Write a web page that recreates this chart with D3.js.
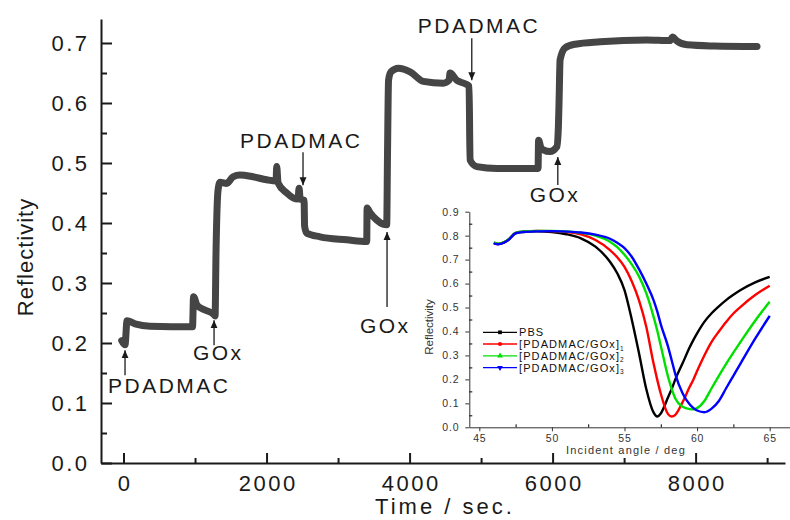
<!DOCTYPE html>
<html>
<head>
<meta charset="utf-8">
<script src="https://cdn.jsdelivr.net/npm/d3@7"></script>
<style>
  body { margin: 0; background: #fff; }
  svg { display: block; font-family: "Liberation Sans", Arial, sans-serif; }
</style>
</head>
<body>
<div id="chart"></div>
<script>
// main trace: reflectivity vs time
var timeSec = [-25, 21, 49, 161, 371, 965, 979, 1028, 1140, 1259, 1280, 1294, 1322, 1350, 1443,
    1531, 1629, 1811, 2003, 2133, 2142, 2161, 2283, 2371, 2440, 2455, 2470, 2525, 2532, 2562,
    2748, 3122, 3401, 3406, 3448, 3541, 3629, 3680, 3692, 3706, 3741, 3843, 4007, 4193, 4473,
    4553, 4566, 4660, 4776, 4832, 4846, 4940, 5220, 5797, 5804, 5839, 5871, 5965, 6059, 6081,
    6091, 6105, 6175, 6315, 6664, 7317, 7641, 7680, 7741, 7881, 8259, 8859];
var reflectivity = [0.204, 0.197, 0.237, 0.232, 0.228, 0.227, 0.277, 0.263, 0.255, 0.248, 0.245, 0.355, 0.455, 0.468, 0.466,
    0.477, 0.480, 0.477, 0.472, 0.470, 0.494, 0.467, 0.450, 0.442, 0.440, 0.458, 0.440, 0.438, 0.395, 0.383,
    0.377, 0.372, 0.369, 0.425, 0.417, 0.405, 0.398, 0.397, 0.520, 0.638, 0.652, 0.658, 0.652, 0.636, 0.633,
    0.638, 0.650, 0.638, 0.632, 0.628, 0.505, 0.494, 0.491, 0.491, 0.538, 0.525, 0.522, 0.519, 0.527, 0.560,
    0.605, 0.672, 0.692, 0.698, 0.702, 0.705, 0.704, 0.710, 0.703, 0.697, 0.695, 0.694];

var xTicks = [0, 2000, 4000, 6000, 8000];
var xMinorTicks = [1000, 3000, 5000, 7000, 9000];
var yTicks = [0, 0.1, 0.2, 0.3, 0.4, 0.5, 0.6, 0.7];
var yMinorTicks = [0.05, 0.15, 0.25, 0.35, 0.45, 0.55, 0.65];

// annotations (arrow tip at time / reflectivity)
var annoText = ["PDADMAC", "GOx", "PDADMAC", "GOx", "PDADMAC", "GOx"];
var annoTime = [21, 1266, 2510, 3685, 4870, 6073];
var annoValue = [0.188, 0.238, 0.463, 0.385, 0.638, 0.51];

// inset: SPR angle scans
var angleDeg = [46, 46.3, 46.7, 47, 47.5, 48, 49, 50, 51, 52, 53, 54, 54.5, 55, 55.5, 56, 56.5, 57, 57.25, 57.5,
    58, 58.25, 58.5, 59, 59.5, 59.75, 60, 60.5, 61, 61.5, 62, 62.5, 63, 64, 65];
var seriesNames = ["PBS", "[PDADMAC/GOx]", "[PDADMAC/GOx]", "[PDADMAC/GOx]"];
var seriesSub = ["", "1", "2", "3"];
var reflPBS = [0.770, 0.765, 0.772, 0.783, 0.810, 0.815, 0.818, 0.815, 0.806, 0.789, 0.754, 0.691, 0.643, 0.573, 0.450,
    0.309, 0.160, 0.062, 0.045, 0.058, 0.125, 0.160, 0.200, 0.267, 0.335, 0.365, 0.392, 0.440, 0.476, 0.505,
    0.531, 0.553, 0.573, 0.605, 0.628];
var reflLayer1 = [0.770, 0.765, 0.772, 0.783, 0.812, 0.817, 0.820, 0.819, 0.815, 0.805, 0.782, 0.740, 0.710, 0.670, 0.610,
    0.530, 0.420, 0.267, 0.200, 0.140, 0.055, 0.045, 0.052, 0.105, 0.170, 0.200, 0.235, 0.300, 0.357, 0.400,
    0.440, 0.475, 0.503, 0.552, 0.591];
var reflLayer2 = [0.772, 0.766, 0.773, 0.784, 0.812, 0.818, 0.820, 0.820, 0.818, 0.812, 0.800, 0.775, 0.752, 0.720, 0.680,
    0.630, 0.560, 0.462, 0.405, 0.340, 0.211, 0.160, 0.120, 0.086, 0.076, 0.075, 0.080, 0.110, 0.163, 0.215,
    0.265, 0.312, 0.357, 0.445, 0.524];
var reflLayer3 = [0.768, 0.764, 0.771, 0.782, 0.810, 0.815, 0.818, 0.819, 0.817, 0.813, 0.804, 0.787, 0.770, 0.748, 0.712,
    0.660, 0.600, 0.531, 0.485, 0.430, 0.337, 0.280, 0.222, 0.142, 0.095, 0.080, 0.070, 0.063, 0.078, 0.110,
    0.163, 0.215, 0.267, 0.370, 0.465];
var seriesColors = ["#000000", "#ff0000", "#00e000", "#0000ff"];
var insetXTicks = [45, 50, 55, 60, 65];
var insetXMinor = [47.5, 52.5, 57.5, 62.5];
var insetYTicks = [0, 0.1, 0.2, 0.3, 0.4, 0.5, 0.6, 0.7, 0.8, 0.9];
var insetYMinor = [0.05, 0.15, 0.25, 0.35, 0.45, 0.55, 0.65, 0.75, 0.85];

var width = 790, height = 520;
var ink = "#1a1a1a";

var svg = d3.select("#chart").append("svg")
    .attr("width", width)
    .attr("height", height);

// arrowhead
svg.append("defs").append("marker")
    .attr("id", "arrow")
    .attr("viewBox", "0 0 8 10")
    .attr("refX", 8).attr("refY", 5)
    .attr("markerWidth", 8).attr("markerHeight", 10)
    .attr("markerUnits", "userSpaceOnUse")
    .attr("orient", "auto")
    .append("path")
        .attr("d", "M0,1.5 L8,5 L0,8.5 Z")
        .attr("fill", ink);

//scales
var x = d3.scaleLinear().domain([-315, 9250]).range([101, 785]);
var y = d3.scaleLinear().domain([0, 0.74]).range([463, 19]);

//x axis
var gx = svg.append("g")
    .attr("transform", "translate(0,463)")
    .call(d3.axisBottom(x).tickValues(xTicks).tickSizeInner(-10).tickSizeOuter(0).tickPadding(12)
        .tickFormat(d3.format("d")));
svg.append("g")
    .attr("transform", "translate(0,463)")
    .call(d3.axisBottom(x).tickValues(xMinorTicks).tickSizeInner(-5).tickSizeOuter(0).tickFormat(""))
    .select(".domain").remove();

//y axis
var gy = svg.append("g")
    .attr("transform", "translate(101,0)")
    .call(d3.axisLeft(y).tickValues(yTicks).tickSizeInner(-11).tickSizeOuter(0).tickPadding(11.5)
        .tickFormat(d3.format(".1f")));
svg.append("g")
    .attr("transform", "translate(101,0)")
    .call(d3.axisLeft(y).tickValues(yMinorTicks).tickSizeInner(-6).tickSizeOuter(0).tickFormat(""))
    .select(".domain").remove();

svg.selectAll(".domain, .tick line").attr("stroke", ink).attr("stroke-width", 2);
[gx, gy].forEach(function(g){
    g.selectAll("text")
        .attr("font-family", "Liberation Sans, Arial, sans-serif")
        .attr("font-size", "22px")
        .attr("letter-spacing", "2.5px")
        .attr("fill", ink);
});
gx.selectAll("text").attr("dx", "1.2px");

//axis labels
svg.append("text")
    .attr("x", 445).attr("y", 514)
    .attr("text-anchor", "middle")
    .attr("font-size", "22px")
    .attr("letter-spacing", "3px")
    .attr("fill", ink)
    .text("Time / sec.");

svg.append("text")
    .attr("transform", "translate(33,257) rotate(-90)")
    .attr("text-anchor", "middle")
    .attr("font-size", "22px")
    .attr("letter-spacing", "1px")
    .attr("fill", ink)
    .text("Reflectivity");

//main trace
var mainData = timeSec.map(function(t, i){ return {t: t, r: reflectivity[i]}; });
svg.append("path")
    .datum(mainData)
    .attr("fill", "none")
    .attr("stroke", "#454545")
    .attr("stroke-width", 7)
    .attr("stroke-linejoin", "round")
    .attr("stroke-linecap", "round")
    .attr("d", d3.line()
        .x(function(d){ return x(d.t); })
        .y(function(d){ return y(d.r); })
        .curve(d3.curveMonotoneX));

//annotations: tail offset, text dx, text baseline offset (px from arrow tip)
var annoLayout = [
    {tail: 25, dx: 43, dy: 43},
    {tail: 25, dx: 3, dy: 40},
    {tail: -33, dx: -3, dy: -37},
    {tail: 75, dx: -3, dy: 101},
    {tail: -42, dx: 6, dy: -47},
    {tail: 28, dx: -4, dy: 45}
];
annoText.forEach(function(label, i){
    var ax = x(annoTime[i]), ay = y(annoValue[i]), L = annoLayout[i];
    svg.append("line")
        .attr("x1", ax).attr("y1", ay + L.tail)
        .attr("x2", ax).attr("y2", ay)
        .attr("stroke", ink)
        .attr("stroke-width", 1.3)
        .attr("marker-end", "url(#arrow)");
    svg.append("text")
        .attr("x", ax + L.dx + 1.2).attr("y", ay + L.dy)
        .attr("text-anchor", "middle")
        .attr("font-size", "21px")
        .attr("letter-spacing", "2.5px")
        .attr("fill", ink)
        .text(label);
});

// ---------- inset ----------
var ix = d3.scaleLinear().domain([44.31, 66.4]).range([469.3, 790]);
var iy = d3.scaleLinear().domain([0, 0.9]).range([427.3, 211.7]);
var insetInk = "#333";

var igx = svg.append("g")
    .attr("transform", "translate(0,427.3)")
    .call(d3.axisBottom(ix).tickValues(insetXTicks).tickSizeInner(4).tickSizeOuter(0).tickPadding(3));
svg.append("g")
    .attr("transform", "translate(0,427.3)")
    .call(d3.axisBottom(ix).tickValues(insetXMinor).tickSizeInner(-3).tickSizeOuter(0).tickFormat(""))
    .select(".domain").remove();

var igy = svg.append("g")
    .attr("transform", "translate(469.3,0)")
    .call(d3.axisLeft(iy).tickValues(insetYTicks).tickSizeInner(4).tickSizeOuter(0).tickPadding(6)
        .tickFormat(d3.format(".1f")));
svg.append("g")
    .attr("transform", "translate(469.3,0)")
    .call(d3.axisLeft(iy).tickValues(insetYMinor).tickSizeInner(-3).tickSizeOuter(0).tickFormat(""))
    .select(".domain").remove();

[igx, igy].forEach(function(g){
    g.selectAll(".domain, .tick line").attr("stroke", insetInk).attr("stroke-width", 1);
    g.selectAll("text")
        .attr("font-family", "Liberation Sans, Arial, sans-serif")
        .attr("font-size", "10.5px")
        .attr("letter-spacing", "0.8px")
        .attr("fill", insetInk);
});

svg.append("text")
    .attr("x", 626).attr("y", 454)
    .attr("text-anchor", "middle")
    .attr("font-size", "11px")
    .attr("letter-spacing", "1.2px")
    .attr("fill", insetInk)
    .text("Incident angle / deg");

svg.append("text")
    .attr("transform", "translate(433,327) rotate(-90)")
    .attr("text-anchor", "middle")
    .attr("font-size", "11.5px")
    .attr("fill", insetInk)
    .text("Reflectivity");

var allSeries = [reflPBS, reflLayer1, reflLayer2, reflLayer3];
var insetLine = d3.line()
    .x(function(d){ return ix(d.a); })
    .y(function(d){ return iy(d.r); })
    .curve(d3.curveMonotoneX);

allSeries.forEach(function(vals, k){
    var pts = angleDeg.map(function(a, i){ return {a: a, r: vals[i]}; });
    svg.append("path")
        .datum(pts)
        .attr("fill", "none")
        .attr("stroke", seriesColors[k])
        .attr("stroke-width", 2.4)
        .attr("d", insetLine);
});

//legend
var symbols = [d3.symbolSquare, d3.symbolCircle, d3.symbolTriangle, d3.symbolTriangle];
var legendRows = [332.3, 344, 355.8, 367.6];
seriesNames.forEach(function(name, k){
    var ly = legendRows[k];
    svg.append("line")
        .attr("x1", 483).attr("x2", 517)
        .attr("y1", ly).attr("y2", ly)
        .attr("stroke", seriesColors[k])
        .attr("stroke-width", 1.3);
    svg.append("path")
        .attr("d", d3.symbol().type(symbols[k]).size(14))
        .attr("transform", "translate(500," + ly + ")" + (k === 3 ? " rotate(180)" : ""))
        .attr("fill", seriesColors[k]);
    var t = svg.append("text")
        .attr("x", 519).attr("y", ly + 4)
        .attr("font-size", "11px")
        .attr("letter-spacing", "1.1px")
        .attr("fill", "#111")
        .text(name);
    if (seriesSub[k]) {
        t.append("tspan")
            .attr("dy", 2.5)
            .attr("font-size", "6.5px")
            .attr("letter-spacing", "0px")
            .text(seriesSub[k]);
    }
});
</script>
</body>
</html>
